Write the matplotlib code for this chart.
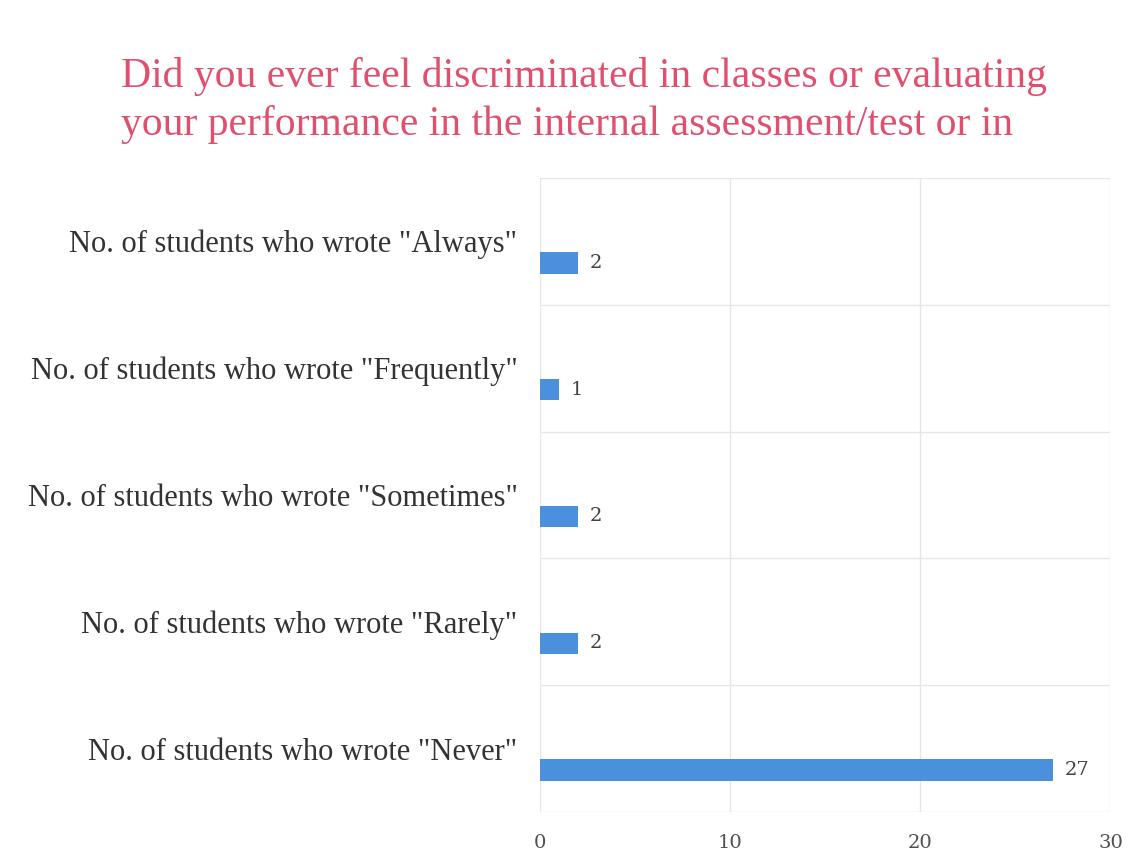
import matplotlib
matplotlib.use("Agg")
import matplotlib.pyplot as plt
import numpy as np

categories = ['No. of students who wrote "Never"',
              'No. of students who wrote "Rarely"',
              'No. of students who wrote "Sometimes"',
              'No. of students who wrote "Frequently"',
              'No. of students who wrote "Always"']
values = [27, 2, 2, 1, 2]
x_ticks = [0, 10, 20, 30]
title_lines = ["Did you ever feel discriminated in classes or evaluating",
               "your performance in the internal assessment/test or in"]

fig = plt.figure(figsize=(11.46, 8.63), dpi=100)
fig.patch.set_facecolor("white")
ax = fig.add_axes([0.471, 0.059, 0.498, 0.735])

pos = np.arange(len(categories))
bar_offset = -0.17
ax.barh(pos + bar_offset, values, height=0.17, color="#4a90dc", zorder=3)
for p, v in zip(pos, values):
    ax.text(v + 0.6, p + bar_offset, str(v), va="center", ha="left",
            fontsize=14, family="DejaVu Serif", color="#404040")

ax.set_xlim(0, 30)
ax.set_ylim(-0.5, len(categories) - 0.5)
ax.set_xticks(x_ticks)
ax.set_xticklabels([str(t) for t in x_ticks], family="DejaVu Serif",
                   fontsize=14, color="#505050")
ax.set_yticks(pos)
ax.set_yticklabels(categories, family="Liberation Serif", fontsize=22,
                   color="#333333")
ax.set_yticks(np.arange(-0.5, len(categories), 1.0), minor=True)
ax.tick_params(axis="y", which="both", length=0, pad=16)
ax.tick_params(axis="x", length=0, pad=16)
ax.grid(axis="x", color="#e6e6e6", linewidth=1.0, zorder=0)
ax.grid(axis="y", which="minor", color="#e6e6e6", linewidth=1.0, zorder=0)
ax.grid(axis="y", which="major", visible=False)
for s in ax.spines.values():
    s.set_visible(False)

fig.text(0.106, 0.911, title_lines[0], ha="left", va="center",
         family="Liberation Serif", fontsize=30, color="#e0506e")
fig.text(0.106, 0.856, title_lines[1], ha="left", va="center",
         family="Liberation Serif", fontsize=30, color="#e0506e")

fig.savefig("out.png", dpi=100)
